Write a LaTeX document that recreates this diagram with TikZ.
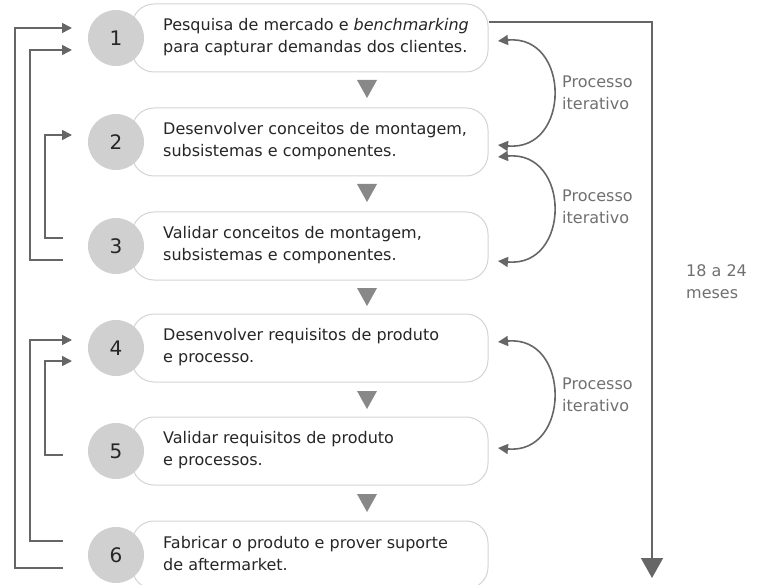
\documentclass[tikz,border=0pt]{standalone}
\usepackage{fontspec}
\setmainfont{DejaVu Sans}
\usetikzlibrary{arrows.meta}
\definecolor{boxline}{HTML}{D4D4D4}
\definecolor{discfill}{HTML}{D0D0D0}
\definecolor{wire}{HTML}{666666}
\definecolor{stepgray}{HTML}{888888}
\definecolor{inktext}{HTML}{262626}
\definecolor{softtext}{HTML}{707070}
\tikzset{
  stagebox/.style={draw=boxline, line width=1pt, rounded corners=22pt,
    minimum width=356pt, minimum height=68pt, inner sep=0pt, fill=white},
  disc/.style={circle, fill=discfill, minimum size=56pt, inner sep=0pt,
    font=\fontsize{20}{20}\selectfont, text=inktext},
  stagetext/.style={anchor=west, align=left, inner sep=0pt, text=inktext,
    font=\fontsize{16}{22}\selectfont},
  sidetext/.style={anchor=west, align=left, inner sep=0pt, text=softtext,
    font=\fontsize{16}{22}\selectfont},
  wirearrow/.style={draw=wire, line width=1.6pt,
    -{Triangle[length=10pt,width=10pt]}},
  wireline/.style={draw=wire, line width=1.6pt},
  loopback/.style={draw=wire, line width=1.6pt,
    {Triangle[length=10pt,width=10pt]}-{Triangle[length=10pt,width=10pt]}},
  downtri/.style={fill=stepgray, draw=none},
}
\begin{document}
\begin{tikzpicture}[x=1pt,y=-1pt]
\useasboundingbox (0,0) rectangle (759,585);

% stage boxes
\foreach \k/\y in {1/38,2/142,3/246,4/348,5/451,6/555}{
  \node[stagebox] (b\k) at (310,\y) {};
  \node[disc] (c\k) at (116,\y) {\k};
}

% stage texts
\node[stagetext] (t1) at (163,37) {Pesquisa de mercado e \textit{benchmarking}\\para capturar demandas dos clientes.};
\node[stagetext] (t2) at (163,141) {Desenvolver conceitos de montagem,\\subsistemas e componentes.};
\node[stagetext] (t3) at (163,245) {Validar conceitos de montagem,\\subsistemas e componentes.};
\node[stagetext] (t4) at (163,347) {Desenvolver requisitos de produto\\e processo.};
\node[stagetext] (t5) at (163,450) {Validar requisitos de produto\\e processos.};
\node[stagetext] (t6) at (163,554) {Fabricar o produto e prover suporte\\de aftermarket.};

% small down triangles between stages
\foreach \y in {80,184,288,391,494}{
  \fill[downtri] (357,\y) -- (377,\y) -- (367,\y+18) -- cycle;
}

% feedback loops on the left
\coordinate (in1a) at (72,28);
\coordinate (in1b) at (72,50);
\coordinate (in2) at (72,135);
\coordinate (out3a) at (63,238);
\coordinate (out3b) at (63,260);
\coordinate (in4a) at (72,340);
\coordinate (in4b) at (72,361);
\coordinate (out5) at (63,455);
\coordinate (out6a) at (63,541);
\coordinate (out6b) at (63,568);

\draw[wirearrow] (out6b) -- (15,568) -- (15,28) -- (in1a);
\draw[wirearrow] (out3b) -- (30,260) -- (30,50) -- (in1b);
\draw[wirearrow] (out3a) -- (45,238) -- (45,135) -- (in2);
\draw[wirearrow] (out6a) -- (30,541) -- (30,340) -- (in4a);
\draw[wirearrow] (out5) -- (45,455) -- (45,361) -- (in4b);

% overall time line on the right
\coordinate (tend) at (652,578);
\draw[wireline] (b1.east |- 0,22) -- (652,22) -- (652,560);
\draw[draw=wire, line width=1.6pt, -{Triangle[length=20pt,width=22pt]}] (652,556) -- (tend);
\node[sidetext] (months) at (686,282) {18 a 24\\meses};

% iterative process arcs
\coordinate (r1) at (498,41);
\coordinate (r2) at (498,145);
\coordinate (r3) at (498,157);
\coordinate (r4) at (498,261);
\coordinate (r5) at (498,342);
\coordinate (r6) at (498,448);
\draw[loopback] (r1) .. controls (571,34) and (571,152) .. (r2);
\draw[loopback] (r3) .. controls (571,150) and (571,268) .. (r4);
\draw[loopback] (r5) .. controls (571,335) and (571,455) .. (r6);
\node[sidetext] (it1) at (562,93) {Processo\\iterativo};
\node[sidetext] (it2) at (562,207) {Processo\\iterativo};
\node[sidetext] (it3) at (562,395) {Processo\\iterativo};
\end{tikzpicture}
\end{document}
